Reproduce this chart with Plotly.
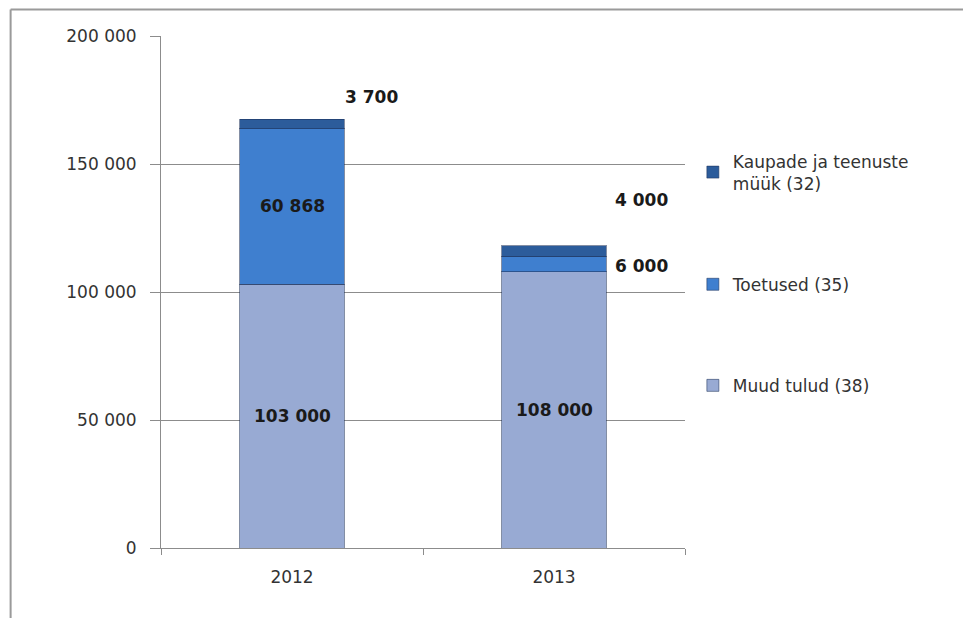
import plotly.graph_objects as go

years = ["2012", "2013"]
muud_tulud = [103000, 108000]
toetused = [60868, 6000]
kaupade_muuk = [3700, 4000]

series_names = ["Muud tulud (38)", "Toetused (35)", "Kaupade ja teenuste<br>müük (32)"]
tick_vals = [0, 50000, 100000, 150000, 200000]
tick_text = ["0", "50 000", "100 000", "150 000", "200 000"]


def fmt(v):
    return f"{v:,}".replace(",", " ")


fig = go.Figure()

colors = ["#98aad3", "#3f7fcf", "#2c5c9b"]
series = [muud_tulud, toetused, kaupade_muuk]

for i, (name, vals, col) in enumerate(zip(series_names, series, colors)):
    fig.add_trace(
        go.Bar(
            x=years,
            y=vals,
            name=name,
            legendgroup=str(i),
            legendrank=3 - i,
            marker=dict(color=col, line=dict(color="rgba(30,50,90,0.55)", width=1)),
            width=0.4,
        )
    )

# Data labels (category axis -> use index positions)
lbl_font = dict(family="DejaVu Sans", size=17, color="#1a1a1a")

for k in range(len(years)):
    fig.add_annotation(x=k, y=muud_tulud[k] / 2, text=f"<b>{fmt(muud_tulud[k])}</b>",
                       showarrow=False, font=lbl_font)

fig.add_annotation(x=0, y=muud_tulud[0] + toetused[0] / 2, text=f"<b>{fmt(toetused[0])}</b>",
                   showarrow=False, font=lbl_font)

# Small segments labelled beside the bars
top2012 = muud_tulud[0] + toetused[0] + kaupade_muuk[0]
fig.add_annotation(x=0, y=top2012, text=f"<b>{fmt(kaupade_muuk[0])}</b>",
                   showarrow=False, font=lbl_font, xshift=79, yshift=22)
top2013 = muud_tulud[1] + toetused[1] + kaupade_muuk[1]
fig.add_annotation(x=1, y=top2013, text=f"<b>{fmt(kaupade_muuk[1])}</b>",
                   showarrow=False, font=lbl_font, xshift=87, yshift=46)
fig.add_annotation(x=1, y=muud_tulud[1] + toetused[1] / 2, text=f"<b>{fmt(toetused[1])}</b>",
                   showarrow=False, font=lbl_font, xshift=87, yshift=-2)

# Outer frame (top and left edges only)
fig.add_shape(type="line", xref="paper", yref="paper", x0=-0.287, x1=1.6, y0=1.052, y1=1.052,
              line=dict(color="#9a9a9a", width=2))
fig.add_shape(type="line", xref="paper", yref="paper", x0=-0.287, x1=-0.287, y0=1.052, y1=-0.2,
              line=dict(color="#9a9a9a", width=2))

fig.update_layout(
    width=971,
    height=618,
    barmode="stack",
    plot_bgcolor="white",
    paper_bgcolor="white",
    margin=dict(l=153, r=294, t=28, b=78, autoexpand=False),
    font=dict(family="DejaVu Sans", size=16, color="#333333"),
    showlegend=True,
    legend=dict(
        traceorder="grouped",
        tracegroupgap=76,
        x=1.015,
        y=0.79,
        xanchor="left",
        yanchor="top",
        font=dict(family="DejaVu Sans", size=17, color="#333333"),
        itemwidth=30,
    ),
)

fig.update_yaxes(
    range=[0, 200000],
    tickvals=tick_vals,
    ticktext=tick_text,
    showgrid=True,
    gridcolor="#8c8c8c",
    gridwidth=1,
    showline=True,
    linecolor="#8c8c8c",
    ticks="outside",
    ticklen=10,
    tickcolor="#8c8c8c",
    ticklabelstandoff=10,
    zeroline=False,
    tickfont=dict(size=17, color="#333333"),
)
fig.update_xaxes(
    type="category",
    range=[-0.5, 1.5],
    showline=True,
    linecolor="#8c8c8c",
    ticks="outside",
    tickson="boundaries",
    ticklen=6,
    tickcolor="#8c8c8c",
    ticklabelstandoff=14,
    tickfont=dict(size=17, color="#333333"),
)

fig.write_html("out.html")
